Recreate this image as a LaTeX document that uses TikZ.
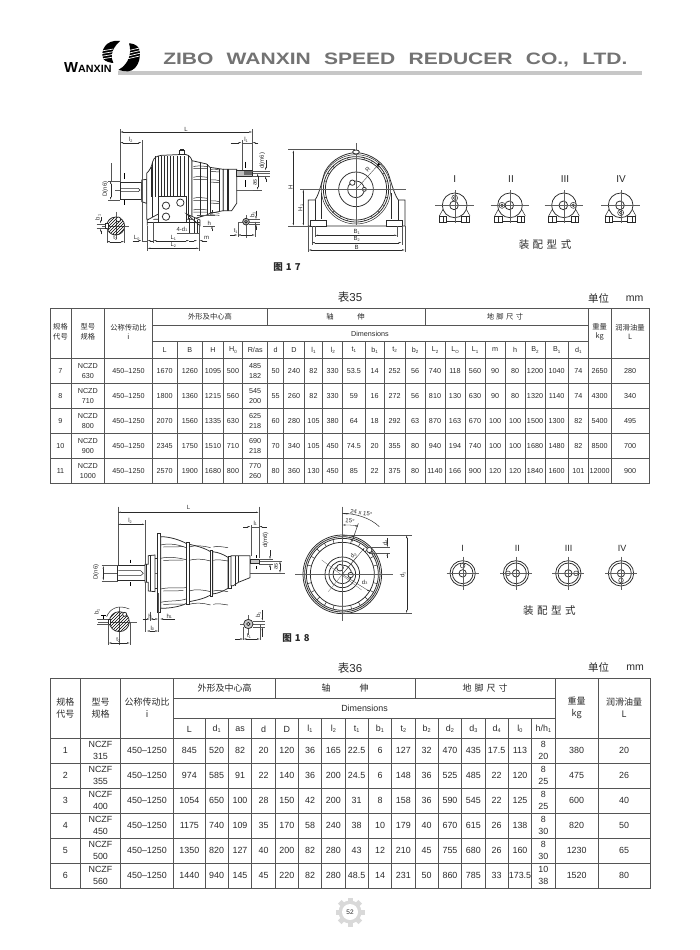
\documentclass[tikz,border=0pt]{standalone}
\usepackage{fontspec}
\setmainfont{Liberation Sans}
\newfontfamily\cjk{Noto Sans CJK SC}
\usetikzlibrary{arrows.meta,patterns}
\definecolor{rulec}{HTML}{555555}
\definecolor{inkc}{HTML}{2A2A2A}
\newcommand\Sb[1]{\raisebox{-.3ex}{\scalebox{.62}{#1}}}
\newcommand\trow[4]{\foreach \cellt [count=\ci from #3] in {#4}{%
  \pgfmathsetmacro\xa{{#1}[\ci]}\pgfmathsetmacro\xb{{#1}[\ci+1]}%
  \node at ({(\xa+\xb)/2},#2) {\cellt};}}
\def\cA{50,71,104.7,152.3,177,202.7,223.3,242.7,267.7,283.7,304.3,322.7,342.7,365,384.3,405,425,445,465,485,505,525,545,568.3,588.3,611,649}
\def\cB{50,80.7,120.3,173.7,205,228.3,251.7,275.3,298.3,321.7,345,368.3,391.7,415,438.3,461.7,485,508.3,531.7,555,598.3,650}
\newcommand\asmA[3]{\begin{scope}[shift={(#1,226)}]
  \draw[lt] (0,0) circle[radius=37];
  \draw[ln] (-46,32) -- (-35,12) (46,32) -- (35,12);
  \draw[lt,fill=white] (-46,32) rectangle (-24,50) (21,32) rectangle (44,50);
  \draw[ln] (-24,47) -- (21,47);
  \draw[ln] (-35,32) -- (-35,50) (35,32) -- (35,50);
  \draw[lt,fill=white] (-2,0) circle[radius=13];
  \draw[ln,fill=white] (#2,#3) circle[radius=9] (#2,#3) circle[radius=4];
  \draw[cl] (-58,0) -- (58,0) (0,-45) -- (0,52);
\end{scope}}
\newcommand\asmB[3]{\begin{scope}[shift={(#1,235)}]
  \draw[lt] (0,0) circle[radius=38] (0,0) circle[radius=31];
  \draw[lt,fill=white] (0,0) circle[radius=11];
  \draw[ln,fill=white] (#2,#3) circle[radius=7];
  \draw[cl] (-48,0) -- (48,0) (0,-50) -- (0,50);
\end{scope}}
\tikzset{
  zm/.style 2 args={xshift=#1pt,yshift=-#2pt,x=.33333pt,y=-.33333pt},
  ln/.style={line width=.5pt,color=inkc},
  lt/.style={line width=.75pt,color=inkc},
  cl/.style={line width=.25pt,color=inkc!75},
  ex/.style={line width=.25pt,color=inkc!80},
  dm/.style={line width=.3pt,color=inkc,{Latex[length=3pt,width=1.3pt]}-{Latex[length=3pt,width=1.3pt]}},
  da/.style={line width=.3pt,color=inkc,-{Latex[length=3pt,width=1.3pt]}},
  lb/.style={font=\fontsize{6}{6}\selectfont,text=inkc,inner sep=0pt},
  sec/.style={line width=.8pt,color=black},
  cellA/.style={font=\fontsize{7.2}{10.4}\selectfont,text=inkc,inner sep=0pt,align=center},
  cellB/.style={font=\fontsize{8.9}{12.2}\selectfont,text=inkc,inner sep=0pt,align=center},
  headA/.style={font=\cjk\fontsize{7.3}{9.6}\selectfont,text=inkc,inner sep=0pt,align=center},
  headB/.style={font=\cjk\fontsize{9}{11.7}\selectfont,text=inkc,inner sep=0pt,align=center},
  tl/.style={line width=.75pt,color=rulec},
  figt/.style={font=\cjk\bfseries\fontsize{9.5}{10}\selectfont,text=inkc,inner sep=0pt},
  capt/.style={font=\cjk\fontsize{10.5}{12}\selectfont,text=inkc,inner sep=0pt},
  rom/.style={font=\fontsize{10}{12}\selectfont,text=inkc,inner sep=0pt},
  ttl/.style={font=\fontsize{11.5}{13}\selectfont,text=inkc,inner sep=0pt},
}
\begin{document}
\begin{tikzpicture}[x=1pt,y=-1pt]
\useasboundingbox[fill=white] (0,0) rectangle (700,950);
% --- header
\fill[black!22] (118,71) rectangle (642,74.5);
\node[anchor=west,inner sep=0pt,text=black!55,font=\bfseries\fontsize{16.5}{17}\selectfont,xscale=1.275] at (163,60) {ZIBO\hspace{.35em} WANXIN\hspace{.35em} SPEED\hspace{.35em} REDUCER\hspace{.35em} CO.,\hspace{.35em} LTD.};
\node[anchor=west,inner sep=0pt,font=\bfseries\fontsize{14.5}{12}\selectfont,xscale=1.02] at (64,67.5) {W\fontsize{10.5}{12}\selectfont ANXIN};
\begin{scope}[zm={55}{35}]
 \fill[black] (195,18) .. controls (150,12) and (135,50) .. (145,72) .. controls (150,80) and (170,84) .. (175,84) .. controls (168,70) and (165,45) .. (195,18) -- cycle;
 \fill[black] (205,108) .. controls (245,118) and (262,70) .. (252,40) .. controls (245,28) and (230,25) .. (222,25) .. controls (230,50) and (225,85) .. (190,105) -- cycle;
 \foreach \yy in {48,56,64,72}{\draw[white,line width=.7pt] (140,\yy) -- (175,\yy-6);}
 \foreach \yy in {42,50,58,66}{\draw[white,line width=.7pt] (215,\yy+6) -- (258,\yy-4);}
\end{scope}
% --- Fig 17 side view
\begin{scope}[zm={90}{120}]
 \draw[cl] (75,210) -- (515,210) (430,160) -- (540,160);
 \draw[lt,fill=white] (90,187) rectangle (155,237);
 \draw[ln] (92,205) -- (145,205) -- (150,210) -- (145,215) -- (92,215);
 \draw[lt,fill=white] (155,180) -- (170,178) -- (170,250) -- (155,245) -- cycle;
 \draw[lt,fill=white] (170,160) .. controls (180,150) and (185,140) .. (188,125) .. controls (192,112) and (200,108) .. (215,106) -- (285,103) .. controls (297,105) and (303,112) .. (306,122) -- (306,298) -- (170,298) -- (170,160);
 \draw[lt,fill=white] (306,122) -- (350,132) -- (360,142) -- (400,148) -- (400,272) -- (360,280) -- (350,285) -- (306,298) -- cycle;
 \draw[lt,fill=white] (400,148) -- (440,148) -- (440,250) -- (425,272) -- (400,272) -- cycle;
 \draw[ln] (412,148) -- (412,272) (415,148) -- (415,272);
 \draw[lt,fill=inkc!30] (440,152) rectangle (487,168);
 \fill[inkc!70] (462,154) rectangle (487,166);
 \foreach \xx in {196,205,215,224,232,241,250,262,272,283}{\draw[ln] (\xx,108) -- (\xx,230);}
 \draw[ln] (188,125) -- (188,298) (185,140) -- (185,230) (296,106) -- (296,298);
 \draw[lt,fill=white] (268,91) rectangle (284,102);
 \draw[ln] (272,91) -- (272,88) -- (280,88) -- (280,91);
 \draw[ln] (330,125) -- (330,292) (360,142) -- (360,280) (352,132) -- (352,285) (388,146) -- (388,276);
 \foreach \yy/\hh in {140/20,172/10,235/-10,270/-15}{
   \draw[ln] (310,\yy) .. controls (320,\yy-3) and (330,\yy-3) .. (352,\yy) (310,\yy+6) -- (352,\yy+6);
   \draw[ln] (360,\yy+8) .. controls (370,\yy+6) and (380,\yy+8) .. (388,\yy+10) (360,\yy+14) -- (388,\yy+16);}
 \draw[lt,fill=white] (205,230) rectangle (290,308);
 \draw[lt] (228,257) circle[radius=11] (271,248) circle[radius=11] (228,290) circle[radius=11];
 \draw[lt,fill=white] (172,317) -- (172,300) -- (205,282) (290,282) -- (330,300) -- (330,317) -- cycle;
 \draw[ln] (172,308) -- (205,308) (290,308) -- (330,308);
 \draw[ln] (298,295) -- (298,340) (312,295) -- (312,340) (322,300) -- (322,340);
 % dims
 \draw[ex] (90,28) -- (90,187) (487,28) -- (487,150) (155,60) -- (155,365) (455,60) -- (455,150);
 \draw[dm] (90,36) -- (487,36); \node[lb] at (288,29) {L};
 \draw[dm] (90,68) -- (155,68); \node[lb] at (122,60) {l\Sb{2}};
 \draw[da] (422,68) -- (455,68); \draw[da] (505,68) -- (487,68); \draw[ex] (455,68) -- (487,68); \node[lb] at (468,60) {l\Sb{1}};
 \draw[ex] (55,182) -- (90,182) (55,240) -- (90,240);
 \draw[dm] (62,182) -- (62,240); \draw[ex] (62,130) -- (62,182); \node[lb,rotate=90] at (46,207) {D(n6)};
 \draw[sec] (102,160) -- (102,178) (102,240) -- (102,256) (467,125) -- (467,145) (467,180) -- (467,200);
 \draw[ex] (487,152) -- (540,152) (487,168) -- (540,168) (490,210) -- (515,210);
 \draw[da] (527,120) -- (527,152); \draw[da] (527,185) -- (527,168); \node[lb,rotate=90] at (517,122) {d(m6)};
 \draw[dm] (503,160) -- (503,210); \node[lb,rotate=90] at (495,187) {as};
 \draw[ex] (320,285) -- (375,285) (340,317) -- (375,317);
 \draw[da] (366,270) -- (366,285); \draw[da] (366,333) -- (366,317); \node[lb] at (358,309) {h};
 \draw[ex] (260,338) -- (330,338); \node[lb] at (276,328) {4-d\Sb{1}};
 \draw[ex] (172,317) -- (172,392) (190,305) -- (190,368) (328,317) -- (328,392);
 \draw[da] (128,362) -- (155,362); \draw[da] (190,362) -- (172,362); \draw[ex] (155,362) -- (172,362); \node[lb] at (140,353) {L\Sb{0}};
 \draw[dm] (190,362) -- (298,362); \node[lb] at (250,353) {L\Sb{1}};
 \draw[da] (298,362) -- (322,362); \draw[da] (352,362) -- (328,362); \node[lb] at (350,353) {m};
 \draw[dm] (172,385) -- (328,385); \node[lb] at (250,375) {L\Sb{2}};
 % section shaft big
 \draw[cl] (35,318) -- (118,318) (77,275) -- (77,358);
 \draw[lt,pattern=north east lines] (77,318) circle[radius=27];
 \draw[lt,fill=white] (46,311) rectangle (54,325);
 \draw[lt,fill=white] (85,298) circle[radius=7];
 \draw[ex] (50,325) -- (50,370) (103,318) -- (103,370) (20,311) -- (46,311) (20,325) -- (46,325);
 \draw[dm] (50,365) -- (103,365); \node[lb] at (76,355) {t\Sb{2}};
 \draw[da] (32,292) -- (32,311); \draw[da] (32,343) -- (32,325); \node[lb,rotate=90] at (24,292) {b\Sb{1}};
 % section small
 \draw[cl] (445,305) -- (510,305) (468,285) -- (468,355);
 \draw[lt,fill=inkc!35] (468,305) circle[radius=10];
 \draw[lt,fill=white] (468,305) circle[radius=4];
 \draw[ex] (478,298) -- (510,298) (478,312) -- (510,312) (443,310) -- (443,350) (495,305) -- (495,350);
 \draw[da] (498,272) -- (498,298); \draw[da] (498,330) -- (498,312); \node[lb,rotate=90] at (488,284) {b\Sb{1}};
 \draw[da] (420,345) -- (443,345); \draw[dm] (443,345) -- (495,345); \node[lb] at (437,332) {t\Sb{1}};
\end{scope}
% --- Fig 17 front view
\begin{scope}[zm={280}{130}]
 \draw[lt] (90,270) -- (90,288);
 \draw[lt] (85,288) -- (85,210) -- (105,210) .. controls (120,190) and (128,140) .. (135,125) .. controls (155,85) and (200,68) .. (228,68) .. controls (256,68) and (300,85) .. (322,125) .. controls (330,140) and (340,190) .. (355,210) -- (375,210) -- (375,288) -- cycle;
 \draw[ln] (105,210) -- (105,270) (355,210) -- (355,270) (125,190) -- (125,268) (335,190) -- (335,268);
 \draw[lt,fill=white] (90,270) rectangle (140,288) (318,270) rectangle (368,288);
 \draw[lt] (228,178) circle[radius=98] (228,178) circle[radius=92];
 \draw[ln] (228,178) circle[radius=104];
 \foreach \a in {0,15,...,345}{\draw[ln] ({228+92*cos(\a)},{178+92*sin(\a)}) -- ({228+98*cos(\a)},{178+98*sin(\a)});}
 \draw[lt] (228,178) circle[radius=52] (228,178) circle[radius=25];
 \draw[lt,fill=white] (217,158) circle[radius=8] (253,178) circle[radius=6];
 \draw[cl] (60,178) -- (378,178) (228,40) -- (228,285);
 \draw[lt,fill=white] (228,66) ellipse[x radius=10,y radius=6];
 \draw[ex] (25,58) -- (225,58) (25,288) -- (90,288);
 \draw[dm] (40,60) -- (40,288); \node[lb,rotate=90] at (32,172) {H};
 \draw[dm] (70,178) -- (70,288); \node[lb,rotate=90] at (62,234) {H\Sb{1}};
 \draw[da] (228,178) -- (296,103); \fill[black] (296,103) circle[radius=4]; \node[lb,rotate=48] at (263,120) {R};
 \draw[ex] (85,288) -- (85,366) (375,288) -- (375,366) (95,288) -- (95,344) (365,288) -- (365,344) (105,288) -- (105,322) (352,288) -- (352,322);
 \draw[dm] (105,316) -- (352,316); \node[lb] at (230,305) {B\Sb{1}};
 \draw[dm] (95,338) -- (365,338); \node[lb] at (230,328) {B\Sb{2}};
 \draw[dm] (85,360) -- (375,360); \node[lb] at (230,352) {B};
 % assembly
 \node[rom] at (524,148) {I}; \node[rom] at (693,148) {II}; \node[rom] at (855,148) {III}; \node[rom] at (1023,148) {IV};
 \asmA{524}{0}{-22}
 \asmA{690}{-24}{0}
 \asmA{852}{28}{0}
 \asmA{1022}{0}{22}
 \node[capt] at (795,345) {装\,\,配\,\,型\,\,式};
\end{scope}
\node[figt] at (287,267) {图\,\,1\,\,7};
% --- Table 35
\node[ttl,font=\fontsize{11.5}{13}\selectfont] at (350,297) {\cjk 表\normalfont 35};
\node[capt] at (598.5,298) {单位};
\node[ttl,font=\fontsize{10.5}{13}\selectfont] at (634.5,298.5) {mm};
\draw[tl,line width=.9pt] (50,308.3) rectangle (649,483.3);
\foreach \yy in {358.3,383.3,408.3,433.3,458.3}{\draw[tl] (50,\yy) -- (649,\yy);}
\draw[tl] (152.3,325) -- (588.3,325) (152.3,341.7) -- (588.3,341.7);
\foreach \xx in {71,104.7,152.3,588.3,611}{\draw[tl] (\xx,308.3) -- (\xx,483.3);}
\foreach \xx in {267.7,425}{\draw[tl] (\xx,308.3) -- (\xx,325);}
\foreach \xx in {177,202.7,223.3,242.7,267.7,283.7,304.3,322.7,342.7,365,384.3,405,425,445,465,485,505,525,545,568.3}{\draw[tl] (\xx,341.7) -- (\xx,483.3);}
\begin{scope}[every node/.style={headA}]
 \node at (60.5,332) {规格\\代号};
 \node at (87.8,332) {型号\\规格};
 \node at (128.5,332) {公称传动比\\i};
 \node at (210,317) {外形及中心高};
 \node at (330,317) {轴};
 \node at (361,317) {伸};
 \node at (505,317) {地\,\,脚\,\,尺\,\,寸};
 \node at (599.6,332) {重量\\kg};
 \node at (630,332) {润滑油量\\L};
\end{scope}
\begin{scope}[every node/.style={cellA}]
 \node at (370,333.5) {Dimensions};
 \trow{\cA}{350}{3}{L,B,H,H\Sb{0},R/as,d,D,l\Sb{1},l\Sb{2},t\Sb{1},b\Sb{1},t\Sb{2},b\Sb{2},L\Sb{2},L\Sb{O},L\Sb{1},m,h,B\Sb{2},B\Sb{1},d\Sb{1}}
 \trow{\cA}{370.8}{0}{7,{NCZD\\630},450–1250,1670,1260,1095,500,{485\\182},50,240,82,330,53.5,14,252,56,740,118,560,90,80,1200,1040,74,2650,280}
 \trow{\cA}{395.8}{0}{8,{NCZD\\710},450–1250,1800,1360,1215,560,{545\\200},55,260,82,330,59,16,272,56,810,130,630,90,80,1320,1140,74,4300,340}
 \trow{\cA}{420.8}{0}{9,{NCZD\\800},450–1250,2070,1560,1335,630,{625\\218},60,280,105,380,64,18,292,63,870,163,670,100,100,1500,1300,82,5400,495}
 \trow{\cA}{445.8}{0}{10,{NCZD\\900},450–1250,2345,1750,1510,710,{690\\218},70,340,105,450,74.5,20,355,80,940,194,740,100,100,1680,1480,82,8500,700}
 \trow{\cA}{470.8}{0}{11,{NCZD\\1000},450–1250,2570,1900,1680,800,{770\\260},80,360,130,450,85,22,375,80,1140,166,900,120,120,1840,1600,101,12000,900}
\end{scope}
% --- Fig 18 side view
\begin{scope}[zm={100}{495}]
 \draw[cl] (10,234) -- (555,234) (420,198) -- (545,198);
 \draw[lt,fill=white] (53,210) rectangle (135,257);
 \draw[ln] (55,227) -- (122,227) -- (130,235) -- (122,242) -- (55,242);
 \draw[lt,fill=white] (135,208) -- (145,208) -- (145,182) -- (165,180) -- (165,290) -- (145,288) -- (145,262) -- (135,262) -- cycle;
 \draw[ln] (150,182) -- (150,288) (138,208) -- (138,262);
 \draw[lt,fill=white] (172,115) rectangle (182,352);
 \draw[ln] (165,190) -- (172,190) (165,280) -- (172,280);
 \draw[lt,fill=white] (182,125) .. controls (210,125) and (240,135) .. (260,146) -- (260,325) .. controls (240,335) and (210,340) .. (182,340) -- cycle;
 \draw[lt,fill=white] (267,148) .. controls (290,152) and (315,160) .. (332,170) -- (332,300) .. controls (315,310) and (290,316) .. (267,320) -- cycle;
 \draw[lt,fill=white] (338,170) .. controls (355,172) and (370,178) .. (384,187) -- (384,280) .. controls (370,288) and (355,295) .. (338,297) -- cycle;
 \draw[lt,fill=white] (258,142) rectangle (267,328) (332,165) rectangle (338,303) (384,185) rectangle (393,280);
 \draw[lt,fill=white] (393,182) -- (450,182) -- (450,248) -- (415,262) -- (400,272) -- (393,272) -- cycle;
 \draw[ln] (405,182) -- (405,272) (414,182) -- (414,262);
 \draw[lt,fill=inkc!25] (450,192) rectangle (477,206);
 \foreach \yy/\dd in {150/8,190/4,282/-4,322/-10}{
   \draw[ln] (182,\yy) .. controls (205,\yy-6) and (235,\yy-2) .. (258,\yy+\dd);
   \draw[ln] (190,\yy+6) -- (250,\yy+5);
   \draw[ln] (267,\yy+6) .. controls (285,\yy) and (310,\yy+2) .. (332,\yy+8);
   \draw[ln] (340,\yy+6) .. controls (350,\yy+2) and (370,\yy+6) .. (384,\yy+8);}
 \draw[ex] (53,35) -- (53,210) (477,35) -- (477,190) (135,75) -- (135,208) (135,262) -- (135,412) (452,90) -- (452,182) (175,295) -- (175,412) (150,350) -- (150,378);
 \draw[dm] (53,52) -- (477,52); \node[lb] at (266,38) {L};
 \draw[dm] (53,88) -- (135,88); \node[lb] at (90,77) {l\Sb{2}};
 \draw[da] (430,95) -- (452,95); \draw[da] (500,95) -- (477,95); \draw[ex] (452,95) -- (477,95); \node[lb] at (466,85) {l\Sb{1}};
 \draw[ex] (5,210) -- (53,210) (5,257) -- (53,257);
 \draw[dm] (10,212) -- (10,257); \node[lb,rotate=90] at (-12,231) {D(n6)};
 \draw[sec,line width=.6pt] (90,194) -- (90,205) (90,262) -- (90,274) (468,180) -- (468,188) (468,214) -- (468,222);
 \draw[ex] (478,193) -- (520,193) (478,207) -- (520,207) (450,234) -- (555,234);
 \draw[da] (510,165) -- (510,193); \draw[da] (510,225) -- (510,207); \node[lb,rotate=90] at (497,135) {d(m6)};
 \draw[dm] (540,198) -- (540,234); \node[lb,rotate=90] at (528,214) {as};
 \draw[da] (128,372) -- (150,372); \draw[dm] (150,372) -- (175,372); \draw[da] (225,372) -- (180,372); \node[lb] at (150,364) {h}; \node[lb] at (208,364) {h\Sb{1}};
 \draw[dm] (140,408) -- (175,408); \node[lb] at (157,400) {l\Sb{0}};
 % section big
 \draw[cl] (-5,380) -- (110,380) (58,335) -- (58,450);
 \draw[lt,pattern=north east lines] (58,380) circle[radius=30];
 \draw[lt,fill=white] (74,358) circle[radius=6];
 \draw[lt,fill=white] (24,373) rectangle (32,387);
 \draw[ln] (20,365) .. controls (30,340) and (55,328) .. (88,342);
 \draw[ex] (25,387) -- (25,450) (90,380) -- (90,450) (-8,373) -- (24,373) (-8,387) -- (24,387);
 \draw[dm] (25,444) -- (90,444); \node[lb] at (55,436) {t\Sb{2}};
 \draw[line width=1pt,color=black] (4,362) -- (18,362) (11,362) -- (11,373);
 \node[lb,rotate=90] at (-9,351) {b\Sb{1}};
 % section small
 \draw[cl] (420,387) -- (495,387) (445,360) -- (445,420);
 \draw[lt,fill=inkc!25] (445,387) circle[radius=14];
 \draw[lt,fill=white] (445,387) circle[radius=5];
 \draw[ex] (459,378) -- (495,378) (459,396) -- (495,396) (430,395) -- (430,436) (480,387) -- (480,436);
 \draw[da] (487,345) -- (487,378); \draw[da] (487,425) -- (487,396); \node[lb,rotate=90] at (475,360) {b\Sb{1}};
 \draw[da] (405,432) -- (430,432); \draw[dm] (430,432) -- (480,432); \node[lb] at (447,423) {t\Sb{1}};
\end{scope}
\node[figt] at (296,638) {图\,\,1\,\,8};
% --- Fig 18 front view
\begin{scope}[zm={290}{495}]
 \draw[lt] (157,238) circle[radius=118] (157,238) circle[radius=113] (157,238) circle[radius=108] (157,238) circle[radius=96];
 \foreach \a in {0,15,...,345}{\draw[ln] ({157+96*cos(\a)},{238+96*sin(\a)}) -- ({157+108*cos(\a)},{238+108*sin(\a)});}
 \draw[lt] (157,238) circle[radius=52] (157,238) circle[radius=40] (157,238) circle[radius=28];
 \draw[lt,fill=white] (150,218) circle[radius=10] (182,240) circle[radius=8];
 \draw[cl] (15,238) -- (308,238) (157,35) -- (157,378);
 \draw[cl] (95,195) -- (215,285) (115,290) -- (200,185);
 \draw[lt,fill=white] (238,165) circle[radius=8];
 \draw[ex] (157,120) -- (365,120) (157,355) -- (365,355);
 \draw[dm] (350,120) -- (350,355); \node[lb,rotate=90] at (338,240) {d\Sb{1}};
 \draw[da] (157,238) -- (224,158); \node[lb,rotate=50] at (190,182) {d\Sb{2}};
 \draw[ex] (238,157) -- (300,157) (238,173) -- (300,173);
 \draw[da] (292,130) -- (292,157); \draw[da] (292,190) -- (292,173); \node[lb,rotate=90] at (286,143) {d\Sb{4}};
 \draw[da] (157,238) -- (240,290); \node[lb] at (224,262) {d\Sb{3}};
 \draw[ln] (157,55) .. controls (195,55) and (240,68) .. (268,95);
 \draw[dm] (157,90) .. controls (172,90) and (190,90) .. (205,95);
 \draw[dm] (157,55) -- (178,57);
 \draw[ln] (205,85) -- (186,140);
 \node[lb,rotate=-8] at (214,54) {24 x 15°};
 \node[lb,rotate=-8] at (180,78) {15°};
 % assembly
 \node[rom,font=\fontsize{9}{10}\selectfont] at (518,160) {I};
 \node[rom,font=\fontsize{9}{10}\selectfont] at (682,160) {II};
 \node[rom,font=\fontsize{9}{10}\selectfont] at (836,160) {III};
 \node[rom,font=\fontsize{9}{10}\selectfont] at (996,160) {IV};
 \asmB{518}{0}{-23}
 \asmB{678}{-24}{0}
 \asmB{835}{23}{0}
 \asmB{993}{0}{21}
 \node[capt] at (778,347) {装\,\,配\,\,型\,\,式};
\end{scope}
% --- Table 36
\node[ttl] at (350,668) {\cjk 表\normalfont 36};
\node[capt] at (598.5,667) {单位};
\node[ttl,font=\fontsize{10.5}{13}\selectfont] at (635,667.5) {mm};
\draw[tl,line width=.9pt] (50,678.3) rectangle (650,888.3);
\foreach \yy in {738.3,763.3,788.3,813.3,838.3,863.3}{\draw[tl] (50,\yy) -- (650,\yy);}
\draw[tl] (173.7,698.3) -- (555,698.3) (173.7,718.3) -- (555,718.3);
\foreach \xx in {80.7,120.3,173.7,555,598.3}{\draw[tl] (\xx,678.3) -- (\xx,888.3);}
\foreach \xx in {275.3,415}{\draw[tl] (\xx,678.3) -- (\xx,698.3);}
\foreach \xx in {205,228.3,251.7,275.3,298.3,321.7,345,368.3,391.7,415,438.3,461.7,485,508.3,531.7}{\draw[tl] (\xx,718.3) -- (\xx,888.3);}
\begin{scope}[every node/.style={headB}]
 \node at (65.3,708) {规格\\代号};
 \node at (100.5,708) {型号\\规格};
 \node at (147,708) {公称传动比\\i};
 \node at (224.5,688.5) {外形及中心高};
 \node at (326,688.5) {轴};
 \node at (364,688.5) {伸};
 \node at (485,688.5) {地\,\,脚\,\,尺\,\,寸};
 \node at (576.6,708) {重量\\kg};
 \node at (624,708) {润滑油量\\L};
\end{scope}
\begin{scope}[every node/.style={cellB}]
 \node at (364.5,708.5) {Dimensions};
 \trow{\cB}{729}{3}{L,d\Sb{1},as,d,D,l\Sb{1},l\Sb{2},t\Sb{1},b\Sb{1},t\Sb{2},b\Sb{2},d\Sb{2},d\Sb{3},d\Sb{4},l\Sb{0},h/h\Sb{1}}
 \trow{\cB}{750.8}{0}{1,{NCZF\\315},450–1250,845,520,82,20,120,36,165,22.5,6,127,32,470,435,17.5,113,{8\\20},380,20}
 \trow{\cB}{775.8}{0}{2,{NCZF\\355},450–1250,974,585,91,22,140,36,200,24.5,6,148,36,525,485,22,120,{8\\25},475,26}
 \trow{\cB}{800.8}{0}{3,{NCZF\\400},450–1250,1054,650,100,28,150,42,200,31,8,158,36,590,545,22,125,{8\\25},600,40}
 \trow{\cB}{825.8}{0}{4,{NCZF\\450},450–1250,1175,740,109,35,170,58,240,38,10,179,40,670,615,26,138,{8\\30},820,50}
 \trow{\cB}{850.8}{0}{5,{NCZF\\500},450–1250,1350,820,127,40,200,82,280,43,12,210,45,755,680,26,160,{8\\30},1230,65}
 \trow{\cB}{875.8}{0}{6,{NCZF\\560},450–1250,1440,940,145,45,220,82,280,48.5,14,231,50,860,785,33,173.5,{10\\38},1520,80}
\end{scope}
% --- page number gear
\foreach \a in {0,45,...,315}{\fill[black!15,rotate around={\a:(350,912)}] (347.5,897.5) rectangle (352.5,903);}
\fill[black!15] (350,912) circle[radius=11.5];
\fill[white] (350,912) circle[radius=8];
\node[inner sep=0pt,text=inkc,font=\fontsize{6.5}{7}\selectfont] at (350,912) {52};
\end{tikzpicture}
\end{document}
